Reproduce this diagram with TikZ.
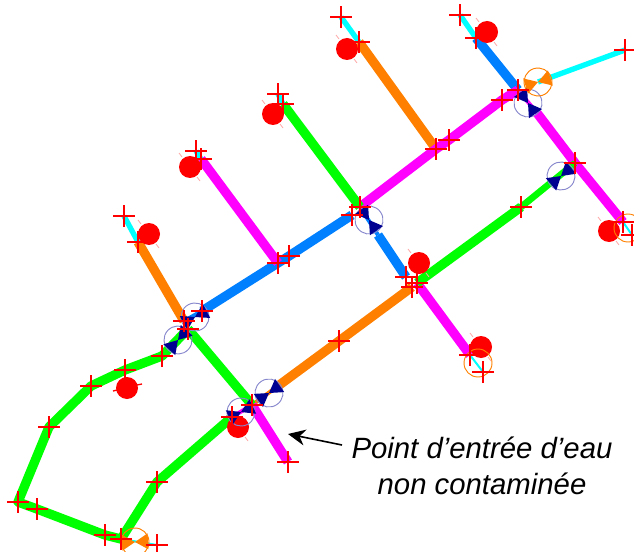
\documentclass[tikz,border=0pt]{standalone}
\usepackage{fontspec}
\setmainfont{Liberation Sans}
\usetikzlibrary{arrows.meta,backgrounds,shapes.misc}
\definecolor{pipegreen}{RGB}{0,255,0}
\definecolor{pipemagenta}{RGB}{255,0,255}
\definecolor{pipeorange}{RGB}{255,128,0}
\definecolor{pipeblue}{RGB}{0,128,255}
\definecolor{pipecyan}{RGB}{0,255,255}
\definecolor{valvenavy}{RGB}{0,0,145}
\definecolor{valvering}{RGB}{135,135,205}
\tikzset{
  pipe/.style={line width=7pt},
  thinpipe/.style={line width=4pt,pipecyan},
  valvepipe/.style={line width=3pt},
  crossmark/.style={cross out,draw=red,line width=2pt,minimum size=9.5pt,inner sep=0pt,rotate=45},
  dotmark/.style={circle,fill=red,minimum size=16.5pt,inner sep=0pt},
  tick/.style={red!35,line width=0.6pt},
  valve/.pic={
    \draw[#1,line width=0.7pt] (0,0) circle (14);
    \fill[pic actions] (-13,-8) -- (13,8) -- (13,-8) -- (-13,8) -- cycle;
  }
}
\begin{document}
\begin{tikzpicture}[x=0.75pt,y=-0.75pt]
  \useasboundingbox (0,0) rectangle (634,552);
  % red dots
  \foreach \name/\pos in {d1/{347,49},d2/{487,32},d3/{273,114},d4/{190,167},d5/{149,234},d6/{609,231},d7/{419,263},d8/{481,347},d9/{127,388},d10/{238,427}}
    \node[dotmark] (\name) at (\pos) {};
  \foreach \i in {1,...,8,10} {
    \draw[tick] ([shift={(-11,-14)}]d\i.center) -- ([shift={(-8,-10)}]d\i.center);
    \draw[tick] ([shift={(7,10)}]d\i.center) -- ([shift={(10,14)}]d\i.center);
  }
  \draw[red,line width=1pt] ([shift={(-14,3)}]d9.center) -- ([shift={(-10,2)}]d9.center);
  \draw[red,line width=1pt] ([shift={(10,-3)}]d9.center) -- ([shift={(15,-4)}]d9.center);
  % valves
  \pic[rotate=28,fill=valvenavy] at (195,317) {valve=valvering};
  \pic[rotate=48,fill=valvenavy] at (178,340) {valve=valvering};
  \pic[rotate=-55,fill=valvenavy] at (369,220) {valve=valvering};
  \pic[rotate=-55,fill=valvenavy] at (528,103) {valve=valvering};
  \pic[rotate=40,fill=valvenavy] at (561,176) {valve=valvering};
  \pic[rotate=35,fill=valvenavy] at (269,393) {valve=valvering};
  \pic[rotate=25,fill=valvenavy] at (241,412) {valve=valvering};
  \pic[rotate=18,fill=pipeorange] at (538,82) {valve=pipeorange};
  \pic[rotate=3,fill=pipeorange] at (135,542) {valve=pipeorange};
  \draw[pipeorange,line width=0.7pt] (478,363) circle (14);
  \draw[pipeorange,line width=0.7pt] (628,228) circle (14);
  % free ends of the pipes at the valves
  \coordinate (e1) at (378,235);
  \coordinate (e2) at (537,113);
  \coordinate (e3) at (278,386);
  \coordinate (e4) at (538,82);
  % crosses
  \foreach \name/\pos in {a1/{341,17},a2/{359,42},a3/{460,15},a4/{476,38},a5/{625,50},
      a6/{278,94},a7/{283,104},a8/{196,151},a9/{201,159},a10/{124,216},a11/{138,242},
      b1/{436,149},b2/{449,140},b3/{502,100},b4/{518,90},b5/{575,163},b6/{623,222},b7/{632,235},
      b8/{521,207},b9/{352,215},b10/{360,207},b11/{278,263},b12/{289,256},
      c1/{406,277},c2/{417,283},c3/{412,287},c4/{339,341},c5/{470,355},c6/{483,372},
      f1/{202,311},f2/{184,321},f3/{188,329},f4/{162,356},f5/{125,370},f6/{91,386},f7/{49,427},
      f8/{18,502},f9/{37,509},f10/{105,535},f11/{121,539},f12/{157,545},f13/{157,482},
      f14/{232,417},f15/{252,405},f16/{288,462}}
    \node[crossmark] (\name) at (\pos) {};
  % pipes
  \begin{scope}[on background layer]
    \draw[thinpipe] (a1.center) -- (a2.center);
    \draw[thinpipe] (a3.center) -- (a4.center);
    \draw[thinpipe] (a6.center) -- (a7.center);
    \draw[thinpipe] (a8.center) -- (a9.center);
    \draw[thinpipe] (a10.center) -- (a11.center);
    \draw[thinpipe] (e4) -- (a5.center);
    \draw[thinpipe,line width=1.5pt] (c5.center) -- (c6.center);
    \draw[thinpipe,line width=1.5pt] (b6.center) -- (b7.center);
    \draw[thinpipe,line width=1.5pt] (f11.center) -- (f12.center);
    \draw[valvepipe,pipeblue] (b10.center) -- (e1);
    \draw[valvepipe,pipemagenta] (b4.center) -- (e2);
    \draw[valvepipe,pipeorange] (f15.center) -- (e3);
    \draw[valvepipe,pipeblue] (f1.center) -- (f2.center);
    \draw[pipe,pipeorange] (a2.center) -- (b1.center);
    \draw[pipe,pipeorange] (a11.center) -- (f2.center);
    \draw[pipe,pipeorange] (c3.center) -- (c4.center) -- (e3);
    \draw[pipe,pipeblue] (a4.center) -- (b4.center);
    \draw[pipe,pipeblue] (f1.center) -- (b12.center) -- (b9.center);
    \draw[pipe,pipeblue] (e1) -- (c1.center);
    \draw[pipe,pipemagenta] (a9.center) -- (b11.center);
    \draw[pipe,pipemagenta] (b10.center) -- (b1.center) -- (b2.center) -- (b3.center) -- (b4.center);
    \draw[pipe,pipemagenta] (e2) -- (b5.center) -- (b6.center);
    \draw[pipe,pipemagenta] (c2.center) -- (c5.center);
    \draw[pipe,pipemagenta] (f15.center) -- (f16.center);
    \draw[valvepipe,pipemagenta] (f14.center) -- (f15.center);
    \draw[pipe,pipegreen] (a7.center) -- (b10.center);
    \draw[pipe,pipegreen] (f3.center) -- (f15.center);
    \draw[pipe,pipegreen] (c2.center) -- (b8.center);
    \draw[pipegreen,line width=5pt] (b8.center) -- (b5.center);
    \draw[pipe,pipegreen,line join=round] (f3.center) -- (f4.center) -- (f5.center) -- (f6.center) -- (f7.center) -- (f8.center) -- (f9.center) -- (f10.center) -- (f11.center) -- (f13.center) -- (f14.center);
  \end{scope}
  % label
  \node[font=\itshape\fontsize{22}{26.5}\selectfont,align=center] (note) at (482,466) {Point d’entrée d’eau\\non contaminée};
  \coordinate (noteend) at (342,445);
  \coordinate (notetip) at (288,434);
  \draw[-{Stealth[length=13pt,width=12pt]},line width=1.2pt] (noteend) -- (notetip);
\end{tikzpicture}
\end{document}
